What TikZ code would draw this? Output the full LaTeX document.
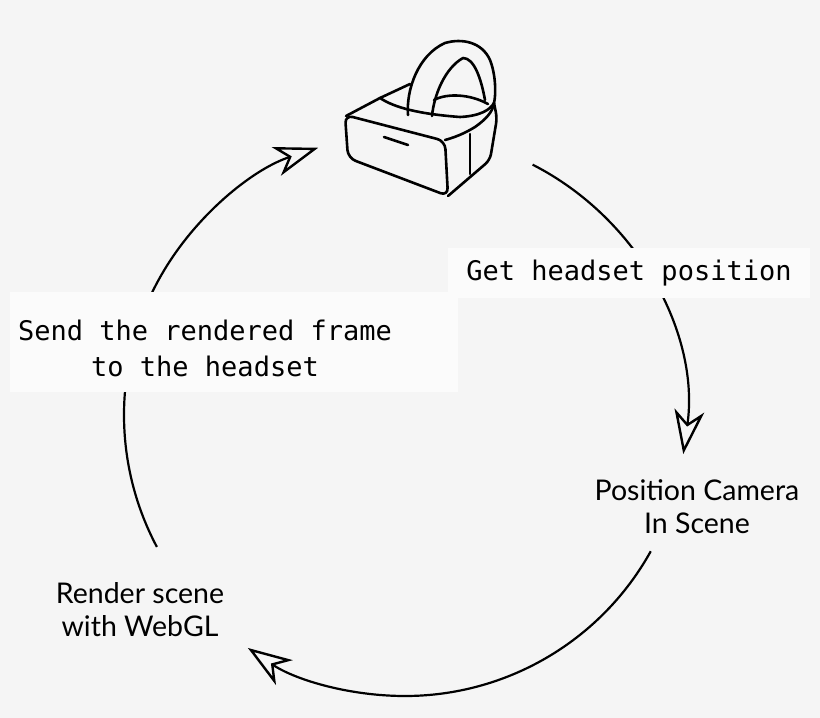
\documentclass[tikz,border=0pt]{standalone}
\usepackage{fontspec}
\setmainfont{Lato}
\newfontfamily\monof{DejaVu Sans Mono}
\usetikzlibrary{arrows.meta}
\definecolor{bg}{HTML}{F5F5F5}
\definecolor{boxc}{HTML}{FBFBFB}
\begin{document}
\begin{tikzpicture}[x=1pt,y=-1pt,
  ring/.style={line width=2.2pt,-{Stealth[open,length=44pt,width=30pt,inset=13pt,line width=2.4pt]}},
  lbl/.style={font=\fontsize{28.5}{33}\selectfont,align=center,text=black},
  code/.style={font=\monof\fontsize{27}{36}\selectfont,fill=boxc,inner sep=0pt,align=center},
  hs/.style={line width=2.6pt,line join=round,line cap=round}]
\useasboundingbox[fill=bg] (0,0) rectangle (820,718);
\coordinate (c) at (405,415);
\draw[ring] ([shift={(-63:281)}]c) arc[start angle=-63,end angle=8,radius=281];
\draw[ring] ([shift={(29:281)}]c) arc[start angle=29,end angle=124,radius=281];
\draw[ring] ([shift={(152:281)}]c) arc[start angle=152,end angle=252,radius=281];
\node[code,minimum width=362pt,minimum height=50pt] (g) at (629,273) {Get headset position};
\node[code,minimum width=448pt,minimum height=100pt] (sb) at (234,342) {};
\node[code] (s) at (205,348) {Send the rendered frame\\to the headset};
\node[lbl] (p) at (697,507) {Position Camera\\In Scene};
\node[lbl] (r) at (140,610) {Render scene\\with WebGL};
% headset
\draw[hs,rounded corners=8pt] (345,115) -- (445,141) -- (448,196) -- (348,158) -- cycle;
\draw[hs] (384,137) -- (408,145);
\draw[hs] (346,116) -- (380,98) .. controls (395,108) and (420,114) .. (460,117) .. controls (480,116) and (490,110) .. (494,103);
\draw[hs] (380,98) -- (410,84);
\draw[hs] (445,140) .. controls (460,136) and (470,130) .. (475,127) .. controls (485,120) and (493,112) .. (494,103);
\draw[hs,rounded corners=6pt] (494,103) -- (497,118) -- (490,160) -- (448,196);
\draw[hs] (470,134) -- (470,174);
\draw[hs] (408,115) .. controls (406,90) and (418,55) .. (445,43) .. controls (462,38) and (482,42) .. (490,60) .. controls (496,75) and (496,95) .. (494,103);
\draw[hs] (432,116) .. controls (434,95) and (445,68) .. (463,58) .. controls (474,58) and (481,78) .. (485,100);
\draw[hs] (434,100) .. controls (447,93) and (470,94) .. (488,104);
\end{tikzpicture}
\end{document}
